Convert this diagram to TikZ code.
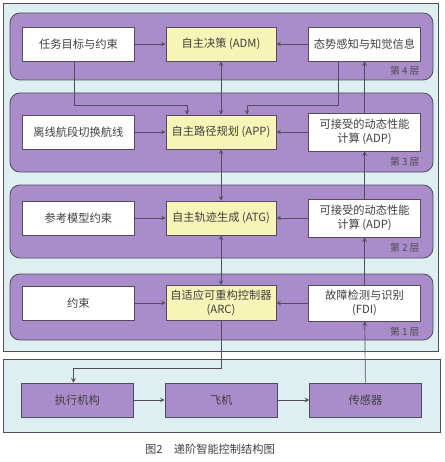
\documentclass[tikz,border=0pt]{standalone}
\usepackage{fontspec}
\setmainfont{Noto Sans CJK SC}
\usetikzlibrary{arrows,positioning,calc}

\definecolor{panelblue}{RGB}{222,239,241}
\definecolor{layerpurple}{RGB}{170,140,202}
\definecolor{coreyellow}{RGB}{246,244,182}
\definecolor{edgegray}{RGB}{80,78,92}

\begin{document}
\begin{tikzpicture}[
    node distance=0.8cm,
    font=\fontsize{8}{10}\selectfont,
    panel/.style={draw=edgegray, fill=panelblue, line width=0.6pt},
    layer/.style={draw=edgegray, fill=layerpurple, rounded corners=7pt, line width=0.6pt},
    box/.style={rectangle, draw=edgegray, fill=white, minimum width=2.8cm, minimum height=0.85cm, inner xsep=1pt, align=center, text=black!75},
    core/.style={box, fill=coreyellow, minimum width=2.75cm},
    plant/.style={box, fill=layerpurple},
    tag/.style={font=\fontsize{7}{8}\selectfont, text=black!70},
    arrow/.style={->, >=stealth, edgegray, line width=0.5pt},
    twoway/.style={<->, >=stealth, edgegray, line width=0.5pt}
]
\useasboundingbox (0,0) rectangle (11.1,-11.55);

% 背景
\draw[panel] (0.075,-0.075) rectangle (10.95,-8.775);
\draw[panel] (0.075,-8.975) rectangle (11.0,-10.8);
\draw[layer] (0.25,-0.325) rectangle (10.825,-2.0);
\draw[layer] (0.25,-2.325) rectangle (10.825,-4.3);
\draw[layer] (0.25,-4.625) rectangle (10.825,-6.45);
\draw[layer] (0.25,-6.85) rectangle (10.825,-8.5);

% 第 4 层
\node[core] (adm) at (5.525,-1.1) {自主决策 (ADM)};
\node[box, left=0.775cm of adm] (task) {任务目标与约束};
\node[box, right=0.8cm of adm] (sense) {态势感知与知觉信息};
\node[tag] (tag4) at (10.12,-1.78) {第 4 层};

% 第 3 层
\node[core] (app) at (5.525,-3.3) {自主路径规划 (APP)};
\node[box, left=0.775cm of app] (offline) {离线航段切换航线};
\node[box, right=0.8cm of app, minimum height=0.95cm] (adp3) {可接受的动态性能\\计算 (ADP)};
\node[tag] (tag3) at (10.12,-4.05) {第 3 层};

% 第 2 层
\node[core] (atg) at (5.525,-5.45) {自主轨迹生成 (ATG)};
\node[box, left=0.775cm of atg] (refmodel) {参考模型约束};
\node[box, right=0.8cm of atg, minimum height=0.95cm] (adp2) {可接受的动态性能\\计算 (ADP)};
\node[tag] (tag2) at (10.12,-6.2) {第 2 层};

% 第 1 层
\node[core] (arc) at (5.525,-7.575) {自适应可重构控制器\\(ARC)};
\node[box, left=0.775cm of arc] (limit) {约束};
\node[box, right=0.8cm of arc, minimum height=0.9cm] (fdi) {故障检测与识别\\(FDI)};
\node[tag] (tag1) at (10.12,-8.3) {第 1 层};

% 被控对象
\node[plant] (plane) at (5.525,-10.0) {飞机};
\node[plant, left=0.775cm of plane] (act) {执行机构};
\node[plant, right=0.8cm of plane] (sensor) {传感器};

% 标题
\node[text=black!75] (title) at (5.25,-11.22) {图2\quad 递阶智能控制结构图};

% 层内连接线
\draw[arrow] (task) -- (adm);
\draw[arrow] (sense) -- (adm);
\draw[arrow] (offline) -- (app);
\draw[arrow] (adp3) -- (app);
\draw[arrow] (refmodel) -- (atg);
\draw[arrow] (adp2) -- (atg);
\draw[arrow] (limit) -- (arc);
\draw[arrow] (fdi) -- (arc);

% 层间连接线
\draw[arrow] ([xshift=-0.1cm]task.south) -- ++(0,-1.1) -| ([xshift=-0.85cm]app.north);
\draw[arrow] ([xshift=-0.65cm]sense.south) -- ++(0,-1.1) -| ([xshift=0.65cm]app.north);
\draw[twoway] (adm) -- (app);
\draw[twoway] (app) -- (atg);
\draw[twoway] (atg) -- (arc);
\draw[arrow] (adp3) -- (sense);
\draw[arrow] (adp2) -- (adp3);
\draw[arrow] (fdi) -- (adp2);

% 与被控对象的连接
\draw[arrow] (arc.south) -- ++(0,-1.175) -| ([xshift=-0.1cm]act.north);
\draw[arrow] (act) -- (plane);
\draw[arrow] (plane) -- (sensor);
\draw[arrow] (sensor) -- (fdi);

\end{tikzpicture}
\end{document}
